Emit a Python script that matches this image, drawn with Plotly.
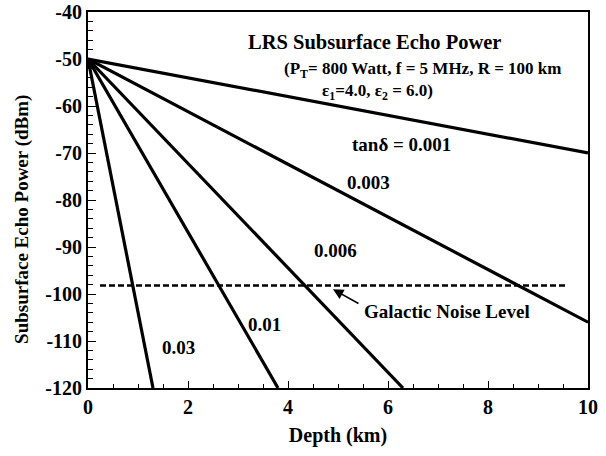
import plotly.graph_objects as go

# Data
tan_delta = ["0.001", "0.003", "0.006", "0.01", "0.03"]
start_depth = 0.0
start_power = -50.0
end_depth = [10.0, 10.0, 6.3, 3.8, 1.3]
end_power = [-70.0, -106.0, -120.0, -120.0, -120.0]

noise_level = -98.2
noise_depth = [0.24, 9.54]

x_ticks = [0, 2, 4, 6, 8, 10]
y_ticks = [-120, -110, -100, -90, -80, -70, -60, -50, -40]
y_tick_text = ["-120", "-110", "-100", "-90", "-80", "-70", "-60", "-50", "-40"]

FONT = "Liberation Serif"

fig = go.Figure()
for td, xe, ye in zip(tan_delta, end_depth, end_power):
    fig.add_trace(go.Scatter(x=[start_depth, xe], y=[start_power, ye], mode="lines",
                             line=dict(color="black", width=3.2), name=td,
                             showlegend=False))

fig.add_trace(go.Scatter(x=noise_depth, y=[noise_level, noise_level], mode="lines",
                         line=dict(color="black", width=2.5, dash="6px,3px"),
                         showlegend=False))

def ann(text, x, y, size=19, xanchor="left"):
    fig.add_annotation(x=x, y=y, text=text, showarrow=False, xanchor=xanchor,
                       yanchor="middle",
                       font=dict(family=FONT, size=size, color="black", weight="bold"))

ann("LRS Subsurface Echo Power", 5.72, -46.3, size=20.5, xanchor="center")
ann("(P<sub>T</sub>= 800 Watt, f = 5 MHz, R = 100 km", 3.88, -52.4, size=17)
ann("ε<sub>1</sub>=4.0, ε<sub>2</sub> = 6.0)", 4.64, -57.1, size=17)
ann("tanδ = 0.001", 5.24, -68.2, size=19)
ann("0.003", 5.14, -76.3, size=19)
ann("0.006", 4.48, -90.7, size=19)
ann("0.01", 3.16, -106.5, size=19)
ann("0.03", 1.44, -111.4, size=19)
ann("Galactic Noise Level", 5.48, -103.7, size=19)

fig.add_annotation(x=4.9, y=-99.0, ax=5.44, ay=-102.2, axref="x", ayref="y",
                   text="", showarrow=True, arrowhead=2, arrowsize=1.3,
                   arrowwidth=1.6, arrowcolor="black")

# y-axis title placed as a rotated annotation (centered lower than plot center, as in reference)
fig.add_annotation(x=-0.132, y=0.447, xref="paper", yref="paper",
                   text="Subsurface Echo Power (dBm)", textangle=-90, showarrow=False,
                   xanchor="center", yanchor="middle",
                   font=dict(family=FONT, size=19, color="black", weight="bold"))

axis_font = dict(family=FONT, size=20, color="black", weight="bold")
fig.update_layout(
    width=606, height=456,
    margin=dict(l=88, r=18, t=12, b=68),
    paper_bgcolor="white", plot_bgcolor="white",
    xaxis=dict(range=[0, 10], tickvals=x_ticks, ticks="inside", ticklen=7,
               tickcolor="black", tickwidth=1, automargin=False,
               ticklabeloverflow="allow",
               showline=True, linecolor="black", linewidth=2, mirror=True,
               showgrid=False, zeroline=False, tickfont=axis_font,
               minor=dict(dtick=0.5, ticks="inside", ticklen=4, tickcolor="black", showgrid=False),
               title=dict(text="Depth (km)", font=axis_font, standoff=11)),
    yaxis=dict(range=[-120, -40], tickvals=y_ticks, ticktext=y_tick_text,
               ticks="inside", ticklen=8,
               tickcolor="black", tickwidth=1, automargin=False,
               ticklabeloverflow="allow",
               showline=True, linecolor="black", linewidth=2, mirror=True,
               showgrid=False, zeroline=False, tickfont=axis_font,
               minor=dict(dtick=2, ticks="inside", ticklen=5, tickcolor="black", showgrid=False)),
)

fig.write_html("out.html",
               config={"displayModeBar": False},
               post_script="document.body.style.margin='0px';document.body.style.overflow='hidden';")
